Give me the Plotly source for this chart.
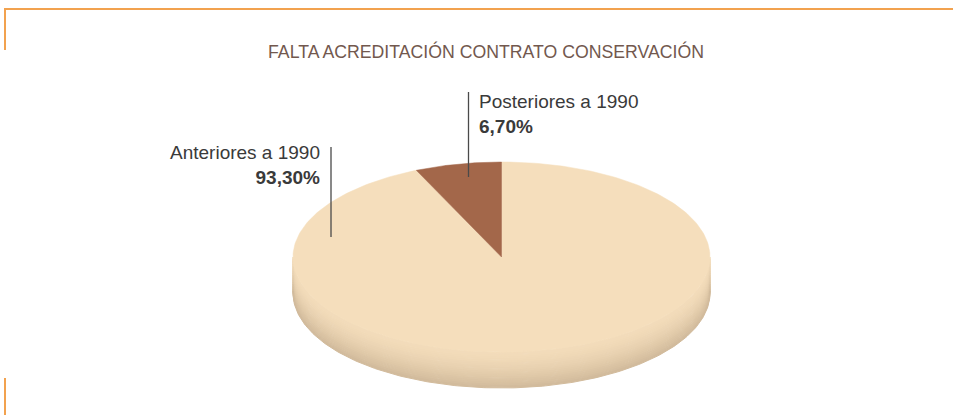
import numpy as np
import plotly.graph_objects as go

# ---- data ----
title_text = "FALTA ACREDITACIÓN CONTRATO CONSERVACIÓN"
categories = ["Anteriores a 1990", "Posteriores a 1990"]
values = [93.30, 6.70]
slice_colors = ["#F5DEBC", "#A3674A"]

# ---- geometry (style) ----
W, H = 953, 415
cx, cy, rx, ry, depth = 501.5, 257.0, 208.5, 95.0, 36.0
start_deg = 90.0  # 12 o'clock

fig = go.Figure()

def pt(theta_deg, off=0.0):
    t = np.radians(theta_deg)
    return cx + rx * np.cos(t), cy - ry * np.sin(t) + off

total = sum(values)
sweeps = [v / total * 360.0 for v in values]
ranges = {
    1: (start_deg, start_deg + sweeps[1]),
    0: (start_deg + sweeps[1], start_deg + 360.0),
}

# ---- side (front wall), drawn as gradient bands ----
def mix(c1, c2, f):
    a = [int(c1[i:i + 2], 16) for i in (1, 3, 5)]
    b = [int(c2[i:i + 2], 16) for i in (1, 3, 5)]
    return "#%02x%02x%02x" % tuple(round(a[k] + (b[k] - a[k]) * f) for k in range(3))

nb = 20
side_top, side_bot = "#F3DCBA", "#D1BA9B"
angs = np.linspace(180, 360, 200)
for i in range(nb):
    d0 = depth * i / nb
    d1 = depth * (i + 1) / nb
    xs0, ys0 = pt(angs, d0)
    xs1, ys1 = pt(angs[::-1], d1)
    f = (i + 0.5) / nb
    col = mix(side_top, side_bot, f ** 1.6)
    fig.add_trace(go.Scatter(
        x=np.concatenate([xs0, xs1, xs0[:1]]),
        y=np.concatenate([ys0, ys1, ys0[:1]]),
        fill="toself", fillcolor=col, mode="lines",
        line=dict(color=col, width=1), hoverinfo="skip", showlegend=False))

# ---- top face slices ----
for idx in (0, 1):
    a0, a1 = ranges[idx]
    a = np.linspace(a0, a1, 300)
    xs, ys = pt(a)
    fig.add_trace(go.Scatter(
        x=np.concatenate([[cx], xs, [cx]]),
        y=np.concatenate([[cy], ys, [cy]]),
        fill="toself", fillcolor=slice_colors[idx], mode="lines",
        line=dict(color=slice_colors[idx], width=0.5),
        name=categories[idx], hoverinfo="skip", showlegend=False))

# ---- labels ----
def fmt(v):
    return ("%.2f" % v).replace(".", ",") + "%"

font_lbl = dict(family="Liberation Sans, Arial, sans-serif", size=19, color="#3A3A3A")
leader_col = "#4A4A4A"
# Anteriores
fig.add_shape(type="line", x0=331, x1=331, y0=147, y1=237, line=dict(color=leader_col, width=1.3))
fig.add_annotation(x=322, y=165, xanchor="right", yanchor="middle", align="right", showarrow=False,
                   text=f"{categories[0]}<br><b>{fmt(values[0])}</b>", font=font_lbl)
# Posteriores
fig.add_shape(type="line", x0=468.5, x1=468.5, y0=92, y1=177, line=dict(color=leader_col, width=1.3))
fig.add_annotation(x=477, y=114, xanchor="left", yanchor="middle", align="left", showarrow=False,
                   text=f"{categories[1]}<br><b>{fmt(values[1])}</b>", font=font_lbl)

# ---- title ----
fig.add_annotation(x=486, y=51, xanchor="center", yanchor="middle", showarrow=False,
                   text=title_text,
                   font=dict(family="Liberation Sans, Arial, sans-serif", size=17.7, color="#72584E"))

# ---- orange frame fragments ----
orange = "#F2A24F"
fig.add_shape(type="line", x0=4, x1=953, y0=9, y1=9, line=dict(color=orange, width=2))
fig.add_shape(type="line", x0=5, x1=5, y0=8, y1=50, line=dict(color=orange, width=2))
fig.add_shape(type="line", x0=5, x1=5, y0=378, y1=415, line=dict(color=orange, width=2))

fig.update_layout(
    width=W, height=H, autosize=False,
    margin=dict(l=0, r=0, t=0, b=0),
    paper_bgcolor="white", plot_bgcolor="white",
    xaxis=dict(range=[0, W], visible=False, fixedrange=True),
    yaxis=dict(range=[H, 0], visible=False, fixedrange=True),
    showlegend=False,
)

fig.write_html("out.html", config={"displayModeBar": False},
               post_script="document.body.style.margin='0';document.body.style.overflow='hidden';")
